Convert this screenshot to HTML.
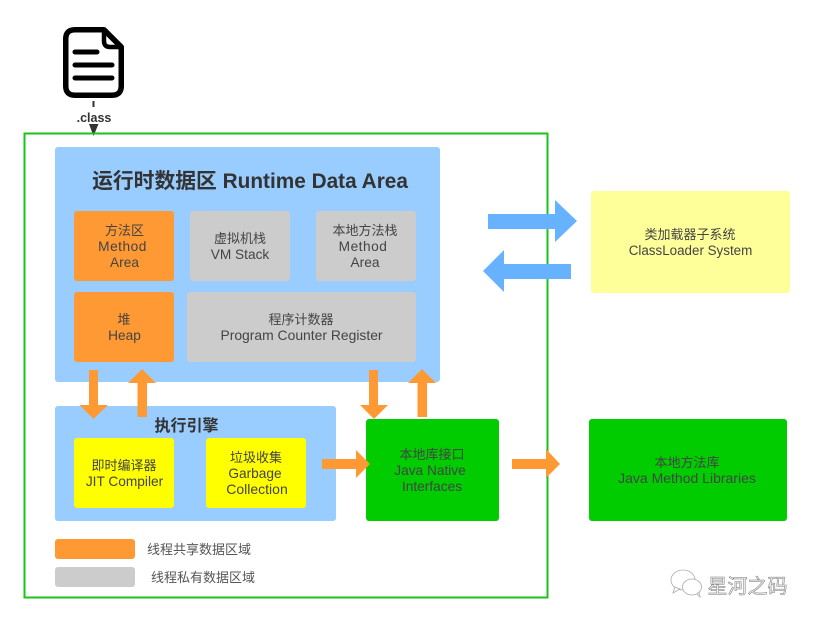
<!DOCTYPE html>
<html><head><meta charset="utf-8">
<style>
html,body{margin:0;padding:0;background:#fff;width:814px;height:622px;overflow:hidden}
svg{display:block}
text{font-family:"Liberation Sans","Noto Sans CJK SC",sans-serif;font-size:13.700px;fill:#444;text-anchor:middle}
.c{font-size:13px}
.m{letter-spacing:.5px}
.b{font-weight:bold;fill:#333}
.l{text-anchor:start;font-size:13px;fill:#555}
</style></head><body>
<svg width="814" height="622" viewBox="0 0 814 622" xmlns="http://www.w3.org/2000/svg">
<!-- class file icon -->
<path d="M75 29.750H104L121.250 47V86Q121.250 95.250 112 95.250H75Q65.750 95.250 65.750 86V39Q65.750 29.750 75 29.750Z" fill="#fff" stroke="#000" stroke-width="5.500" stroke-linejoin="round"/>
<path d="M104 30V41Q104 47 110 47H121" fill="none" stroke="#000" stroke-width="4.500" stroke-linejoin="round"/>
<path d="M75 52H97M75 65H112M75 78H112" stroke="#000" stroke-width="5" stroke-linecap="round" fill="none"/>
<path d="M93.500 101V107" stroke="#333" stroke-width="2"/>
<text x="94" y="122" class="b" style="font-size:12.500px">.class</text>
<path d="M89 124H98.500L93.500 136Z" fill="#333"/>
<!-- frame -->
<rect x="24.500" y="133.500" width="523" height="464" fill="none" stroke="#19c519" stroke-width="2"/>
<!-- main data area -->
<rect x="55" y="147" width="385" height="235" rx="3" fill="#99ccff"/>
<text x="250" y="188" class="b" style="font-size:20.800px">运行时数据区 Runtime Data Area</text>
<rect x="74" y="211" width="100" height="70" rx="3" fill="#ff9933"/>
<rect x="74" y="292" width="100" height="70" rx="3" fill="#ff9933"/>
<rect x="190" y="211" width="100" height="70" rx="3" fill="#cccccc"/>
<rect x="316" y="211" width="100" height="70" rx="3" fill="#cccccc"/>
<rect x="187" y="292" width="229" height="70" rx="3" fill="#cccccc"/>
<text x="124.500" y="235" class="c">方法区</text><text x="122.500" y="251" class="m">Method</text><text x="124.500" y="267">Area</text>
<text x="124" y="324" class="c">堆</text><text x="124.500" y="340">Heap</text>
<text x="240" y="243" class="c">虚拟机栈</text><text x="240" y="259">VM Stack</text>
<text x="365" y="235" class="c">本地方法栈</text><text x="363" y="251" class="m">Method</text><text x="365" y="267">Area</text>
<text x="301" y="324" class="c">程序计数器</text><text x="301.500" y="340" style="font-size:13.900px">Program Counter Register</text>
<!-- exec engine -->
<rect x="55" y="406" width="281" height="115" rx="3" fill="#99ccff"/>
<text x="186.500" y="431" class="b" style="font-size:16px">执行引擎</text>
<rect x="74" y="438" width="100" height="70" rx="3" fill="#ffff00"/>
<rect x="206" y="438" width="100" height="70" rx="3" fill="#ffff00"/>
<text x="124" y="470" class="c">即时编译器</text><text x="124.500" y="486">JIT Compiler</text>
<text x="256" y="462" class="c">垃圾收集</text><text x="255" y="478">Garbage</text><text x="257" y="494" style="font-size:14px">Collection</text>
<!-- JNI -->
<rect x="366" y="419" width="133" height="102" rx="3" fill="#00cc00"/>
<text x="432" y="459" class="c">本地库接口</text><text x="430" y="475">Java Native</text><text x="432" y="491">Interfaces</text>
<!-- native lib -->
<rect x="589" y="419" width="198" height="102" rx="3" fill="#00cc00"/>
<text x="687" y="467" class="c">本地方法库</text><text x="687" y="483" style="font-size:14px">Java Method Libraries</text>
<!-- classloader -->
<rect x="591" y="191" width="199" height="102" rx="3" fill="#ffff99"/>
<text x="690" y="239" class="c">类加载器子系统</text><text x="690.500" y="255" style="font-size:13.400px">ClassLoader System</text>
<!-- orange arrows -->
<g fill="#ff9933">
<path d="M89 370H98V405H108L93.500 419L79.500 405H89Z"/>
<path d="M137.500 417V383H128L142 369L156 383H147V417Z"/>
<path d="M369 370H378V405H388L374 419L360 405H369Z"/>
<path d="M417.500 417V383H408L422 369L436 383H427V417Z"/>
<path d="M322 459H356V450L370 464L356 478V469H322Z"/>
<path d="M512 459H546V449L560 464L546 478V469H512Z"/>
</g>
<!-- blue arrows -->
<g fill="#66b2ff">
<path d="M488 214H555V200L577 221L555 242V229H488Z"/>
<path d="M571 264H504V250L483 271L504 292V279H571Z"/>
</g>
<!-- legend -->
<rect x="55" y="539" width="80" height="20" rx="3" fill="#ff9933"/>
<rect x="55" y="567" width="80" height="20" rx="3" fill="#cccccc"/>
<text x="147" y="554" class="l">线程共享数据区域</text>
<text x="151" y="582" class="l">线程私有数据区域</text>
<!-- watermark -->
<g fill="#fff" stroke="#aaa" stroke-width="0.800">
<ellipse cx="683" cy="580" rx="12" ry="10"/>
<path d="M675 587L673 593L680 589Z"/>
<ellipse cx="692" cy="587" rx="9.500" ry="8"/>
<path d="M697 594L700 597L699 592Z"/>
</g>
<text x="747.500" y="593" style="font-size:20px;fill:#efefef;stroke:#777;stroke-width:0.500">星河之码</text>
</svg>
</body></html>
